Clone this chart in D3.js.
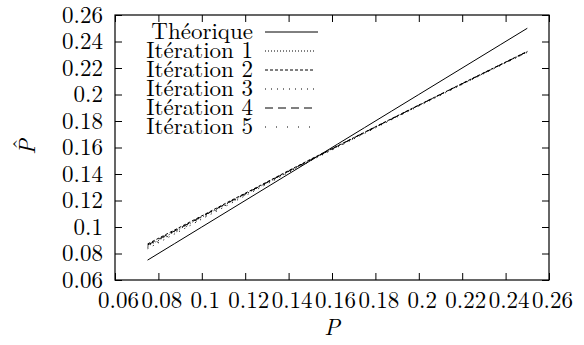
<!DOCTYPE html>
<html>
<head>
<meta charset="utf-8">
<script src="https://cdn.jsdelivr.net/npm/d3@7"></script>
</head>
<body style="margin:0; background:#fff">
<div id="chart"></div>
<script>
// estimated values
const pValues = [0.075, 0.0875, 0.1, 0.1125, 0.125, 0.1375, 0.15, 0.1625, 0.175, 0.1875, 0.2, 0.2125, 0.225, 0.2375, 0.25];
const theorique = [0.075, 0.0875, 0.1, 0.1125, 0.125, 0.1375, 0.15, 0.1625, 0.175, 0.1875, 0.2, 0.2125, 0.225, 0.2375, 0.25];
const iteration1 = [0.0855, 0.0965, 0.1075, 0.1183, 0.1290, 0.1398, 0.1505, 0.1608, 0.1712, 0.1815, 0.1918, 0.2020, 0.2120, 0.2222, 0.2322];
const iteration2 = [0.0872, 0.0978, 0.1084, 0.1192, 0.1297, 0.1404, 0.1510, 0.1612, 0.1715, 0.1818, 0.1920, 0.2022, 0.2124, 0.2225, 0.2325];
const iteration3 = [0.0836, 0.0948, 0.1060, 0.1170, 0.1280, 0.1390, 0.1498, 0.1602, 0.1706, 0.1810, 0.1912, 0.2015, 0.2117, 0.2218, 0.2318];
const iteration4 = [0.0864, 0.0971, 0.1079, 0.1187, 0.1293, 0.1400, 0.1506, 0.1610, 0.1714, 0.1816, 0.1919, 0.2021, 0.2122, 0.2223, 0.2324];
const iteration5 = [0.0846, 0.0957, 0.1067, 0.1177, 0.1286, 0.1394, 0.1502, 0.1605, 0.1709, 0.1812, 0.1915, 0.2017, 0.2119, 0.2220, 0.2320];
const seriesNames = ["Théorique", "Itération 1", "Itération 2", "Itération 3", "Itération 4", "Itération 5"];
const tickValues = [0.06, 0.08, 0.1, 0.12, 0.14, 0.16, 0.18, 0.2, 0.22, 0.24, 0.26];

const series = [theorique, iteration1, iteration2, iteration3, iteration4, iteration5];
const dashes = [null, "1,2", "3,2", "1,5", "8,5", "1,10"];
const font = "'Latin Modern Roman', 'Liberation Serif', serif";
const fontSize = 23;

const width = 584, height = 345;
const margin = { top: 15, right: 35, bottom: 65, left: 115 };
const w = width - margin.left - margin.right;
const h = height - margin.top - margin.bottom;

const svg = d3.select("#chart").append("svg")
    .attr("width", width)
    .attr("height", height);

const g = svg.append("g")
    .attr("transform", "translate(" + margin.left + "," + margin.top + ")");

const x = d3.scaleLinear().domain([0.06, 0.26]).range([0, w]);
const y = d3.scaleLinear().domain([0.06, 0.26]).range([h, 0]);
const fmt = d => String(+d.toFixed(2));

// axes, inward ticks on every side
const tickLen = 7;
const xAxis = g.append("g").attr("transform", "translate(0," + h + ")")
    .call(d3.axisBottom(x).tickValues(tickValues).tickSizeInner(-tickLen).tickSizeOuter(0).tickPadding(12).tickFormat(fmt));
g.append("g").call(d3.axisTop(x).tickValues(tickValues).tickSizeInner(-tickLen).tickSizeOuter(0).tickFormat(""));
g.append("g").call(d3.axisLeft(y).tickValues(tickValues).tickSizeInner(-tickLen).tickSizeOuter(0).tickPadding(12).tickFormat(fmt));
g.append("g").attr("transform", "translate(" + w + ",0)")
    .call(d3.axisRight(y).tickValues(tickValues).tickSizeInner(-tickLen).tickSizeOuter(0).tickFormat(""));

g.selectAll(".domain").remove();
g.selectAll(".tick line").attr("stroke", "#000");
g.selectAll(".tick text").attr("font-size", fontSize).attr("fill", "#000").attr("font-family", font);
xAxis.selectAll(".tick text").attr("dx", 3);

g.append("rect")
    .attr("width", w).attr("height", h)
    .attr("fill", "none").attr("stroke", "#000").attr("stroke-width", 1.2);

// series
const line = d3.line().x((d, i) => x(pValues[i])).y(d => y(d));
series.forEach((s, k) => {
    g.append("path")
        .datum(s)
        .attr("d", line)
        .attr("fill", "none")
        .attr("stroke", "#000")
        .attr("stroke-width", 1)
        .attr("stroke-dasharray", dashes[k]);
});

// legend
const legend = g.append("g").attr("transform", "translate(0,17)");
seriesNames.forEach((name, k) => {
    const row = legend.append("g").attr("transform", "translate(0," + (k * 19) + ")");
    row.append("text")
        .attr("x", 138).attr("y", 7)
        .attr("text-anchor", "end")
        .attr("font-size", fontSize)
        .attr("font-family", font)
        .text(name);
    row.append("line")
        .attr("x1", 150).attr("x2", k === 0 ? 203 : 199)
        .attr("y1", 0).attr("y2", 0)
        .attr("stroke", "#000")
        .attr("stroke-width", 1)
        .attr("stroke-dasharray", dashes[k]);
});

// axis labels
svg.append("text")
    .attr("x", margin.left + w / 2).attr("y", 335)
    .attr("text-anchor", "middle")
    .attr("font-size", fontSize)
    .attr("font-family", font)
    .attr("font-style", "italic")
    .text("P");

// y label: P with a hat, rotated
const yLab = svg.append("g").attr("transform", "translate(35,147) rotate(-90)");
yLab.append("text")
    .attr("x", 0).attr("y", 0)
    .attr("text-anchor", "middle")
    .attr("font-size", fontSize)
    .attr("font-family", font)
    .attr("font-style", "italic")
    .text("P");
yLab.append("text")
    .attr("x", 3).attr("y", -6)
    .attr("text-anchor", "middle")
    .attr("font-size", fontSize)
    .attr("font-family", font)
    .text("\u02C6");
</script>
</body>
</html>
